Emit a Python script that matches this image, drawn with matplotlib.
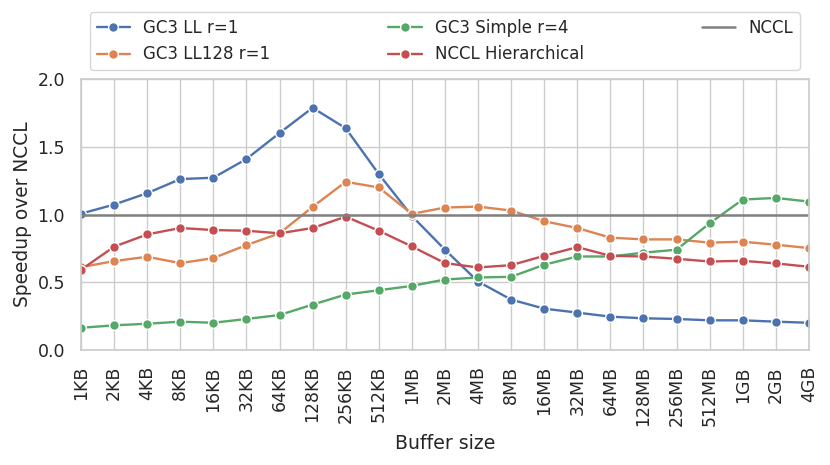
import matplotlib
matplotlib.use("Agg")
import matplotlib.pyplot as plt
import seaborn as sns

sizes = ["1KB", "2KB", "4KB", "8KB", "16KB", "32KB", "64KB", "128KB", "256KB", "512KB",
         "1MB", "2MB", "4MB", "8MB", "16MB", "32MB", "64MB", "128MB", "256MB", "512MB",
         "1GB", "2GB", "4GB"]

gc3_ll = [1.007, 1.074, 1.158, 1.262, 1.272, 1.41, 1.602, 1.788, 1.637, 1.299,
          0.99, 0.741, 0.506, 0.373, 0.306, 0.277, 0.247, 0.235, 0.23, 0.22,
          0.22, 0.21, 0.202]
gc3_ll128 = [0.612, 0.657, 0.689, 0.642, 0.679, 0.775, 0.862, 1.057, 1.242, 1.2,
             1.005, 1.052, 1.059, 1.03, 0.951, 0.901, 0.83, 0.817, 0.817, 0.793,
             0.8, 0.778, 0.753]
gc3_simple = [0.165, 0.183, 0.195, 0.21, 0.202, 0.23, 0.259, 0.336, 0.41, 0.442,
              0.474, 0.521, 0.536, 0.541, 0.63, 0.691, 0.691, 0.719, 0.741, 0.936,
              1.111, 1.123, 1.096]
nccl_hier = [0.593, 0.763, 0.854, 0.901, 0.886, 0.881, 0.862, 0.901, 0.985, 0.881,
             0.765, 0.642, 0.61, 0.627, 0.696, 0.76, 0.696, 0.691, 0.674, 0.654,
             0.659, 0.64, 0.615]
nccl = [1.0] * len(sizes)

sns.set_theme(style="whitegrid")
plt.rcParams["font.family"] = ["DejaVu Sans"]

pal = sns.color_palette("deep")
fig = plt.figure(figsize=(8.3, 4.65), dpi=100)
ax = fig.add_axes([0.0976, 0.247, 0.877, 0.583])

x = list(range(len(sizes)))
common = dict(marker="o", markersize=7, linewidth=1.7, markeredgecolor="white", markeredgewidth=1)
ax.plot(x, gc3_ll, color=pal[0], label="GC3 LL r=1", **common)
ax.plot(x, gc3_ll128, color=pal[1], label="GC3 LL128 r=1", **common)
ax.plot(x, gc3_simple, color=pal[2], label="GC3 Simple r=4", **common)
ax.plot(x, nccl_hier, color=pal[3], label="NCCL Hierarchical", **common)
ax.plot(x, nccl, color="gray", linewidth=1.8, label="NCCL")

ax.set_xlim(0, len(sizes) - 1)
ax.set_ylim(0, 2.0)
ax.set_yticks([0.0, 0.5, 1.0, 1.5, 2.0])
ax.set_xticks(x)
ax.set_xticklabels(sizes, rotation=90)
ax.tick_params(axis="both", labelsize=12.5, length=0, pad=11.5)
ax.set_xlabel("Buffer size", fontsize=13.6, labelpad=5.5)
ax.set_ylabel("Speedup over NCCL", fontsize=13.4, labelpad=4)

ax.legend(loc="lower left", bbox_to_anchor=(0.0124, 1.033, 0.975, 0.2), mode="expand",
          ncol=3, fontsize=12, borderaxespad=0, frameon=True)

fig.savefig("out.png", dpi=100)
